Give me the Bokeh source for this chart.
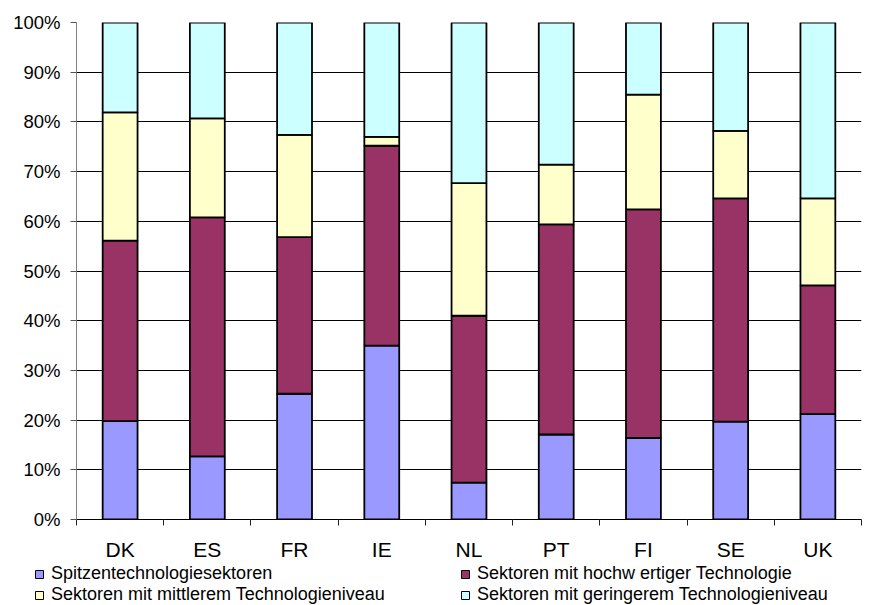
from bokeh.plotting import figure
from bokeh.layouts import column
from bokeh.models import (ColumnDataSource, FixedTicker, PrintfTickFormatter, Legend,
                          LegendItem, Range1d)
from bokeh.embed import file_html
from bokeh.resources import INLINE

categories = ["DK", "ES", "FR", "IE", "NL", "PT", "FI", "SE", "UK"]
spitzen = [19.8, 12.7, 25.3, 35.0, 7.4, 17.1, 16.4, 19.7, 21.2]
hochwertig = [36.3, 48.1, 31.5, 40.2, 33.6, 42.3, 46.0, 44.9, 25.9]
mittel = [25.8, 19.9, 20.6, 1.8, 26.7, 12.0, 23.1, 13.6, 17.5]
gering = [18.1, 19.3, 22.6, 23.0, 32.3, 28.6, 14.5, 21.8, 35.4]
series_names = ["Spitzentechnologiesektoren",
                "Sektoren mit hochw ertiger Technologie",
                "Sektoren mit mittlerem Technologieniveau",
                "Sektoren mit geringerem Technologieniveau"]
colors = ["#9999FF", "#993366", "#FFFFCC", "#CCFFFF"]
y_ticks = list(range(0, 101, 10))

keys = ["s", "h", "m", "g"]
xpos = [i + 0.5 for i in range(len(categories))]
source = ColumnDataSource(dict(x=xpos, s=spitzen, h=hochwertig, m=mittel, g=gering))

FONT = "Liberation Sans"

p = figure(width=877, height=563, output_backend="svg", toolbar_location=None,
           x_range=Range1d(0, len(categories)), y_range=Range1d(0, 100),
           min_border_left=76, min_border_right=16, min_border_top=22, min_border_bottom=44)
p.frame_align = False
p.outline_line_color = None
p.background_fill_color = "white"
p.border_fill_color = "white"

renderers = p.vbar_stack(keys, x="x", width=0.4, source=source, color=colors,
                         line_color="black", line_width=1.8)

# axes
p.xaxis.ticker = FixedTicker(ticks=xpos, minor_ticks=list(range(len(categories) + 1)))
p.xaxis.major_label_overrides = {x: c for x, c in zip(xpos, categories)}
p.xaxis.major_tick_out = 0
p.xaxis.major_tick_in = 0
p.xaxis.minor_tick_out = 6
p.xaxis.minor_tick_in = 0
p.xaxis.minor_tick_line_color = "#222222"
p.xaxis.axis_line_color = "black"
p.xaxis.major_label_text_font = FONT
p.xaxis.major_label_text_font_size = "21px"
p.xaxis.major_label_text_color = "black"
p.xaxis.major_label_standoff = 12

p.yaxis.ticker = FixedTicker(ticks=y_ticks, minor_ticks=[])
p.yaxis.formatter = PrintfTickFormatter(format="%d%%")
p.yaxis.axis_line_color = "#808080"
p.yaxis.major_tick_line_color = "#555555"
p.yaxis.major_tick_out = 6
p.yaxis.major_tick_in = 0
p.yaxis.major_label_text_font = FONT
p.yaxis.major_label_text_font_size = "18.5px"
p.yaxis.major_label_text_color = "black"
p.yaxis.major_label_standoff = 10

p.xgrid.grid_line_color = None
p.ygrid.ticker = FixedTicker(ticks=y_ticks)
p.ygrid.grid_line_color = "black"
p.ygrid.grid_line_width = 1

# legend strip below the chart (its own copies of the stacks are outside its view)
pl = figure(width=877, height=42, output_backend="svg", toolbar_location=None,
            x_range=Range1d(-3, -2), y_range=Range1d(0, 1),
            x_axis_type=None, y_axis_type=None,
            min_border_left=0, min_border_right=0, min_border_top=0, min_border_bottom=0)
pl.frame_align = False
pl.outline_line_color = None
pl.xgrid.grid_line_color = None
pl.ygrid.grid_line_color = None
pl.border_fill_color = "white"

legend_renderers = pl.vbar_stack(keys, x="x", width=0.4, source=source, color=colors,
                                 line_color="black", line_width=1)
items = [LegendItem(label=n, renderers=[r]) for n, r in zip(series_names, legend_renderers)]
legend = Legend(items=items, orientation="horizontal", ncols=2,
                location=(34, 0), padding=0, margin=0, spacing=0,
                glyph_width=10, glyph_height=10, label_standoff=7,
                label_width=409, label_height=16,
                label_text_font=FONT, label_text_font_size="18px",
                label_text_color="black",
                border_line_color=None, background_fill_alpha=0)
pl.add_layout(legend, "center")

layout = column(p, pl, spacing=0)
open("out.html", "w").write(file_html(layout, INLINE))
